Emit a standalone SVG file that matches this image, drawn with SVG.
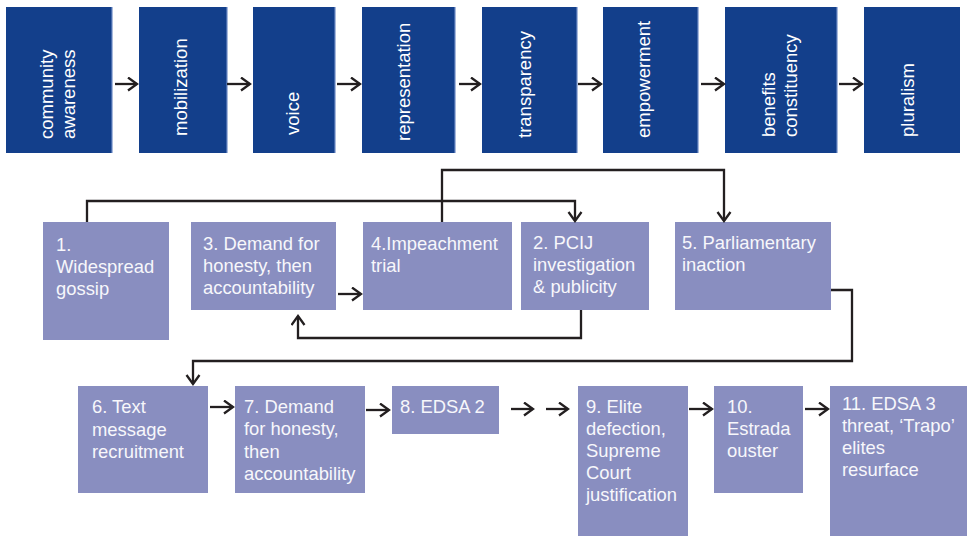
<svg xmlns="http://www.w3.org/2000/svg" width="967" height="536" viewBox="0 0 967 536">
<defs>
<marker id="ah" markerUnits="userSpaceOnUse" markerWidth="14" markerHeight="16" refX="10" refY="7.5" orient="auto">
<path d="M1,1 L10,7.5 L1,14" fill="none" stroke="#231f20" stroke-width="2.3"/>
</marker>
<style>
.top{fill:#133f8b}
.edge{stroke:#6f8cc6;stroke-width:1.2}
.mid{fill:#898ec0}
.tt{font-family:"Liberation Sans",Arial,sans-serif;font-size:18.5px;fill:#ffffff}
.lt{font-family:"Liberation Sans",Arial,sans-serif;font-size:18.4px;fill:#f7f7fb}
.c{fill:none;stroke:#231f20;stroke-width:2.3}
.ca{fill:none;stroke:#231f20;stroke-width:2.3;marker-end:url(#ah)}
</style>
</defs>
<g id="n-community"><rect class="top" x="6" y="7" width="106" height="146"/><line class="edge" x1="112" y1="7" x2="112" y2="153"/><text class="tt" transform="translate(53,139) rotate(-90)">community</text><text class="tt" transform="translate(75,139) rotate(-90)">awareness</text></g>
<g id="n-mobilization"><rect class="top" x="139" y="7" width="88" height="146"/><line class="edge" x1="227" y1="7" x2="227" y2="153"/><text class="tt" transform="translate(187,136) rotate(-90)">mobilization</text></g>
<g id="n-voice"><rect class="top" x="253" y="7" width="82" height="146"/><line class="edge" x1="335" y1="7" x2="335" y2="153"/><text class="tt" transform="translate(299,135) rotate(-90)">voice</text></g>
<g id="n-representation"><rect class="top" x="362" y="7" width="93" height="146"/><line class="edge" x1="455" y1="7" x2="455" y2="153"/><text class="tt" transform="translate(410,141) rotate(-90)">representation</text></g>
<g id="n-transparency"><rect class="top" x="482" y="7" width="95" height="146"/><line class="edge" x1="577" y1="7" x2="577" y2="153"/><text class="tt" transform="translate(531,138) rotate(-90)">transparency</text></g>
<g id="n-empowerment"><rect class="top" x="603" y="7" width="95" height="146"/><line class="edge" x1="698" y1="7" x2="698" y2="153"/><text class="tt" transform="translate(650,138) rotate(-90)">empowerment</text></g>
<g id="n-benefits"><rect class="top" x="725" y="7" width="112" height="146"/><line class="edge" x1="837" y1="7" x2="837" y2="153"/><text class="tt" transform="translate(775,137) rotate(-90)">benefits</text><text class="tt" transform="translate(797,137) rotate(-90)">constituency</text></g>
<g id="n-pluralism"><rect class="top" x="864" y="7" width="96" height="146"/><text class="tt" transform="translate(914,137) rotate(-90)">pluralism</text></g>

<g id="n1"><rect class="mid" x="43" y="222" width="126" height="118"/><text class="lt" x="56" y="251">1.</text><text class="lt" x="56" y="273">Widespread</text><text class="lt" x="56" y="295">gossip</text></g>
<g id="n3"><rect class="mid" x="191" y="222" width="145" height="88"/><text class="lt" x="203" y="250">3. Demand for</text><text class="lt" x="203" y="272">honesty, then</text><text class="lt" x="203" y="294">accountability</text></g>
<g id="n4"><rect class="mid" x="363" y="222" width="149" height="88"/><text class="lt" x="371" y="250">4.Impeachment</text><text class="lt" x="371" y="272">trial</text></g>
<g id="n2"><rect class="mid" x="521" y="222" width="128" height="88"/><text class="lt" x="533" y="249">2. PCIJ</text><text class="lt" x="533" y="271">investigation</text><text class="lt" x="533" y="293">&amp; publicity</text></g>
<g id="n5"><rect class="mid" x="675" y="222" width="156" height="88"/><text class="lt" x="682" y="249">5. Parliamentary</text><text class="lt" x="682" y="271">inaction</text></g>

<g id="n6"><rect class="mid" x="78" y="386" width="130" height="107"/><text class="lt" x="92" y="413">6. Text</text><text class="lt" x="92" y="436">message</text><text class="lt" x="92" y="458">recruitment</text></g>
<g id="n7"><rect class="mid" x="235" y="386" width="130" height="107"/><text class="lt" x="244" y="413">7. Demand</text><text class="lt" x="244" y="435">for honesty,</text><text class="lt" x="244" y="458">then</text><text class="lt" x="244" y="480">accountability</text></g>
<g id="n8"><rect class="mid" x="392" y="386" width="107" height="48"/><text class="lt" x="400" y="413">8. EDSA 2</text></g>
<g id="n9"><rect class="mid" x="578" y="386" width="110" height="150"/><text class="lt" x="586" y="413">9. Elite</text><text class="lt" x="586" y="435">defection,</text><text class="lt" x="586" y="457">Supreme</text><text class="lt" x="586" y="479">Court</text><text class="lt" x="586" y="501">justification</text></g>
<g id="n10"><rect class="mid" x="714" y="386" width="89" height="107"/><text class="lt" x="727" y="413">10.</text><text class="lt" x="727" y="435">Estrada</text><text class="lt" x="727" y="457">ouster</text></g>
<g id="n11"><rect class="mid" x="830" y="386" width="137" height="150"/><text class="lt" x="842" y="410">11. EDSA 3</text><text class="lt" x="842" y="432">threat, ‘Trapo’</text><text class="lt" x="842" y="454">elites</text><text class="lt" x="842" y="476">resurface</text></g>

<g id="connectors">
<line class="ca" x1="115" y1="84" x2="137" y2="84"/>
<line class="ca" x1="227" y1="84" x2="250" y2="84"/>
<line class="ca" x1="337" y1="84" x2="360" y2="84"/>
<line class="ca" x1="459" y1="84" x2="480" y2="84"/>
<line class="ca" x1="578" y1="84" x2="601" y2="84"/>
<line class="ca" x1="701" y1="84" x2="724" y2="84"/>
<line class="ca" x1="839" y1="84" x2="862" y2="84"/>
<path class="ca" d="M87,222 V201 H575 V221"/>
<path class="ca" d="M442,222 V170 H724 V221"/>
<path class="ca" d="M581,310 V338 H298 V316"/>
<line class="ca" x1="338" y1="294" x2="361" y2="294"/>
<path class="ca" d="M831,290 H852 V361 H193 V384"/>
<line class="ca" x1="210" y1="407" x2="233" y2="407"/>
<line class="ca" x1="366" y1="410" x2="389" y2="410"/>
<line class="ca" x1="511" y1="409" x2="533" y2="409"/>
<line class="ca" x1="546" y1="409" x2="568" y2="409"/>
<line class="ca" x1="689" y1="409" x2="712" y2="409"/>
<line class="ca" x1="805" y1="409" x2="828" y2="409"/>
</g>
</svg>
